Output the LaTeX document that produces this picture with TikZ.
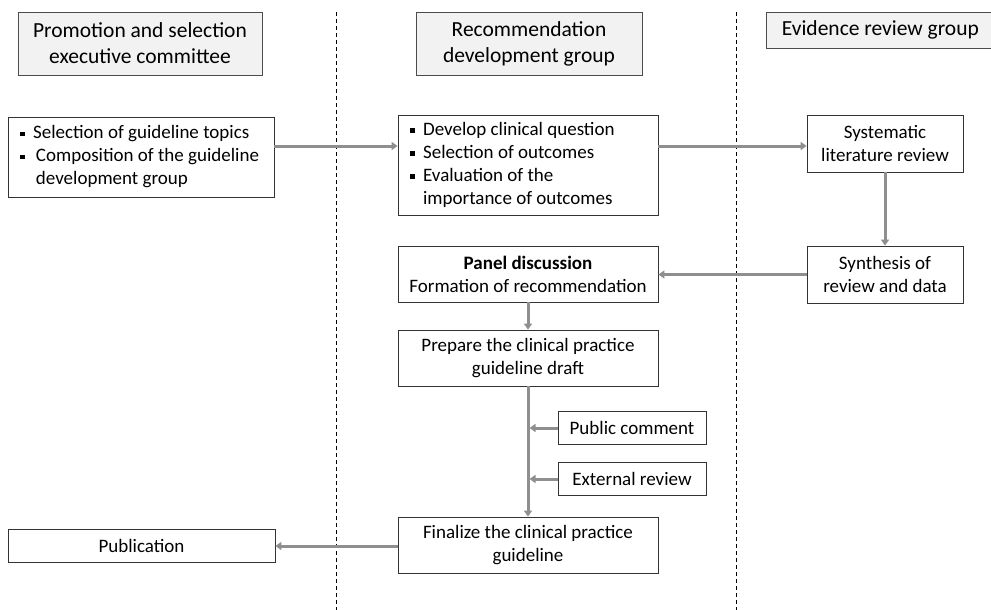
\documentclass[tikz,border=0pt]{standalone}
\usepackage{fontspec}
\setmainfont{Carlito}
\usetikzlibrary{arrows.meta,shadows}
\definecolor{arrgray}{HTML}{8F8F8F}
\definecolor{hdrfill}{HTML}{F2F2F2}
\newcommand\bul{\raisebox{0.3ex}{\rule{0.24em}{0.24em}}\hspace{0.45em}}
\newcommand\bulgap{\hspace{0.69em}}
\tikzset{
  box/.style={draw=black!80, line width=0.8pt, fill=white, align=center, inner sep=2pt, font=\fontsize{19}{23}\selectfont},
  lbox/.style={box, align=flush left, inner xsep=12pt},
  hdr/.style={draw=black!70, line width=0.7pt, fill=hdrfill, align=center, font=\fontsize{21.5}{26}\selectfont,
    drop shadow={shadow xshift=1.2pt, shadow yshift=-1.5pt, fill=black!45, opacity=1}},
  arr/.style={draw=arrgray, line width=3pt, -{Triangle[width=8pt,length=6pt]}},
  lane/.style={draw=black, line width=0.7pt, dash pattern=on 4pt off 3pt},
}
\begin{document}
\begin{tikzpicture}[x=1pt,y=-1pt]
\useasboundingbox (0,0) rectangle (991,610);
% swimlane separators
\coordinate (l1t) at (336,12); \coordinate (l1b) at (336,610);
\coordinate (l2t) at (736,12); \coordinate (l2b) at (736,610);
\draw[lane] (l1t) -- (l1b);
\draw[lane] (l2t) -- (l2b);
% headers
\node[hdr, minimum width=244pt, minimum height=63pt] (h1) at (140,43.5) {Promotion and selection\\executive committee};
\node[hdr, minimum width=226pt, minimum height=63pt] (h2) at (529,43.5) {Recommendation\\development group};
\node[hdr, minimum width=228pt, minimum height=36pt, anchor=west] (h3) at (766,30) {Evidence review group};
% boxes
\node[lbox, text width=242pt, minimum height=80pt] (b1) at (141,157)
  {\bul Selection of guideline topics\\\bul\hspace{0.15em}Composition of the guideline\\\bulgap\hspace{0.15em}development group};
\node[lbox, text width=236pt, minimum height=100pt] (b2) at (528,165)
  {\bul Develop clinical question\\\bul Selection of outcomes\\\bul Evaluation of the\\\bulgap importance of outcomes};
\node[box, minimum width=156pt, minimum height=57pt] (b3) at (885,143.5) {Systematic\\literature review};
\node[box, minimum width=156pt, minimum height=57pt] (b4) at (885,274.5) {Synthesis of\\review and data};
\node[box, minimum width=260pt, minimum height=56pt] (b5) at (528,274) {\textbf{Panel discussion}\\Formation of recommendation};
\node[box, minimum width=260pt, minimum height=56pt] (b6) at (528,358) {Prepare the clinical practice\\guideline draft};
\node[box, minimum width=148pt, minimum height=33pt] (b7) at (632,428) {Public comment};
\node[box, minimum width=148pt, minimum height=33pt] (b8) at (632,479) {External review};
\node[box, minimum width=260pt, minimum height=56pt] (b9) at (528,545) {Finalize the clinical practice\\guideline};
\node[box, minimum width=267pt, minimum height=33pt] (b10) at (141.5,546) {Publication};
% connectors
\coordinate (r1) at (0,146);
\draw[arr] (b1.east |- r1) -- (b2.west |- r1);
\draw[arr] (b2.east |- r1) -- (b3.west |- r1);
\draw[arr] (b3.south) -- (b4.north);
\draw[arr] (b4.west) -- (b5.east |- b4.west);
\draw[arr] (b5.south) -- (b6.north);
\draw[arr] (b6.south) -- (b9.north);
\draw[arr] (b7.west) -- ([xshift=1.5pt]b7.west -| b6.south);
\draw[arr] (b8.west) -- ([xshift=1.5pt]b8.west -| b6.south);
\draw[arr] (b9.west |- b10.east) -- (b10.east);
\end{tikzpicture}
\end{document}
